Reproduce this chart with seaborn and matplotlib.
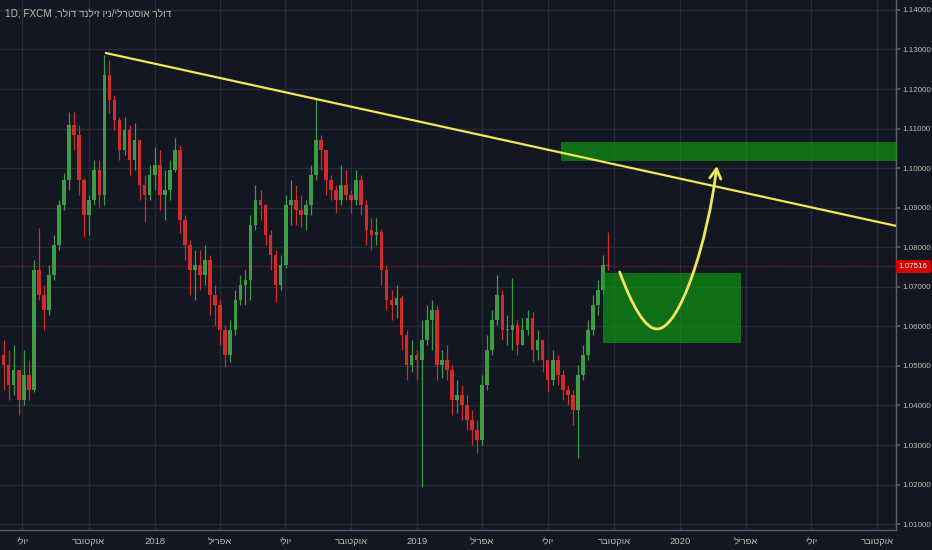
import numpy as np
import pandas as pd
import matplotlib
matplotlib.use("Agg")
import matplotlib.pyplot as plt
import matplotlib.dates as mdates
from matplotlib.path import Path
from matplotlib.patches import FancyArrowPatch
from matplotlib.transforms import blended_transform_factory
import seaborn as sns

# ---------------- data (weekly candles) ----------------
first_week = "2017-06-05"
first_open = 1.0528
closes = [
    1.0502, 1.0452, 1.0490, 1.0414, 1.0477, 1.0439, 1.0742, 1.0679, 1.0641, 1.0730,
    1.0806, 1.0907, 1.0970, 1.1109, 1.1084, 1.0970, 1.0881, 1.0919, 1.0995, 1.0932,
    1.1235, 1.1172, 1.1122, 1.1046, 1.1096, 1.1020, 1.1071, 1.0957, 1.0932, 1.0983,
    1.1008, 1.0932, 1.0945, 1.0995, 1.1046, 1.0869, 1.0806, 1.0742, 1.0755, 1.0730,
    1.0768, 1.0679, 1.0654, 1.0591, 1.0528, 1.0591, 1.0667, 1.0705, 1.0717, 1.0856,
    1.0919, 1.0907, 1.0831, 1.0780, 1.0705, 1.0755, 1.0907, 1.0919, 1.0894, 1.0881,
    1.0907, 1.0983, 1.1071, 1.1046, 1.0970, 1.0945, 1.0919, 1.0957, 1.0932, 1.0919,
    1.0970, 1.0907, 1.0844, 1.0831, 1.0839, 1.0742, 1.0667, 1.0654, 1.0672, 1.0578,
    1.0502, 1.0528, 1.0515, 1.0565, 1.0616, 1.0641, 1.0502, 1.0515, 1.0490, 1.0414,
    1.0426, 1.0401, 1.0363, 1.0338, 1.0313, 1.0452, 1.0540, 1.0616, 1.0679, 1.0591,
    1.0591, 1.0603, 1.0553, 1.0591, 1.0621, 1.0540, 1.0565, 1.0515, 1.0464, 1.0515,
    1.0477, 1.0439, 1.0426, 1.0388, 1.0477, 1.0528, 1.0591, 1.0654, 1.0692, 1.0755,
    1.07516,
]
highs = [
    1.0565, 1.0540, 1.0553, 1.0490, 1.0540, 1.0515, 1.0768, 1.0849, 1.0705, 1.0755,
    1.0831, 1.0919, 1.0988, 1.1142, 1.1142, 1.1109, 1.0975, 1.0932, 1.1020, 1.1020,
    1.1286, 1.1273, 1.1185, 1.1129, 1.1129, 1.1109, 1.1114, 1.1071, 1.0983, 1.1008,
    1.1053, 1.1046, 1.0995, 1.1020, 1.1076, 1.1058, 1.0881, 1.0818, 1.0793, 1.0793,
    1.0806, 1.0780, 1.0705, 1.0667, 1.0603, 1.0616, 1.0692, 1.0730, 1.0742, 1.0881,
    1.0957, 1.0945, 1.0910, 1.0844, 1.0793, 1.0780, 1.0932, 1.0970, 1.0957, 1.0932,
    1.0919, 1.1008, 1.1175, 1.1084, 1.1046, 1.0983, 1.0957, 1.1008, 1.0995, 1.0945,
    1.0995, 1.0983, 1.0919, 1.0874, 1.0874, 1.0845, 1.0755, 1.0692, 1.0705, 1.0679,
    1.0591, 1.0565, 1.0540, 1.0616, 1.0654, 1.0667, 1.0654, 1.0540, 1.0553, 1.0502,
    1.0464, 1.0452, 1.0426, 1.0388, 1.0363, 1.0477, 1.0578, 1.0641, 1.0730, 1.0692,
    1.0629, 1.0722, 1.0616, 1.0621, 1.0641, 1.0636, 1.0591, 1.0565, 1.0515, 1.0540,
    1.0528, 1.0490, 1.0452, 1.0439, 1.0502, 1.0553, 1.0616, 1.0679, 1.0717, 1.0780,
    1.0839,
]
lows = [
    1.0439, 1.0414, 1.0426, 1.0376, 1.0401, 1.0414, 1.0434, 1.0667, 1.0591, 1.0629,
    1.0717, 1.0793, 1.0894, 1.0945, 1.1046, 1.0932, 1.0826, 1.0831, 1.0907, 1.0902,
    1.0907, 1.1139, 1.1096, 1.1020, 1.1033, 1.0983, 1.0995, 1.0919, 1.0864, 1.0919,
    1.0945, 1.0894, 1.0869, 1.0919, 1.0990, 1.0836, 1.0768, 1.0679, 1.0667, 1.0692,
    1.0705, 1.0629, 1.0603, 1.0553, 1.0497, 1.0510, 1.0578, 1.0654, 1.0654, 1.0667,
    1.0844, 1.0869, 1.0806, 1.0742, 1.0662, 1.0692, 1.0748, 1.0856, 1.0856, 1.0851,
    1.0844, 1.0881, 1.0970, 1.0995, 1.0932, 1.0919, 1.0887, 1.0907, 1.0919, 1.0887,
    1.0907, 1.0881, 1.0806, 1.0793, 1.0806, 1.0705, 1.0641, 1.0616, 1.0621, 1.0540,
    1.0464, 1.0485, 1.0464, 1.0194, 1.0553, 1.0540, 1.0464, 1.0469, 1.0464, 1.0376,
    1.0381, 1.0363, 1.0338, 1.0300, 1.0280, 1.0300, 1.0439, 1.0528, 1.0603, 1.0565,
    1.0553, 1.0540, 1.0528, 1.0553, 1.0578, 1.0510, 1.0515, 1.0485, 1.0434, 1.0452,
    1.0452, 1.0414, 1.0401, 1.0351, 1.0267, 1.0464, 1.0515, 1.0578, 1.0629, 1.0679,
    1.0742,
]
last_price = 1.07516

price_ticks = [1.01, 1.02, 1.03, 1.04, 1.05, 1.06, 1.07, 1.08, 1.09, 1.10,
               1.11, 1.12, 1.13, 1.14]
month_ticks = ["2017-07-01", "2017-10-01", "2018-01-01", "2018-04-01",
               "2018-07-01", "2018-10-01", "2019-01-01", "2019-04-01",
               "2019-07-01", "2019-10-01", "2020-01-01", "2020-04-01",
               "2020-07-01", "2020-10-01"]
# Hebrew labels given in visual (left-to-right glyph) order
month_labels = ["ילוי", "רבוטקוא", "2018", "לירפא", "ילוי", "רבוטקוא", "2019",
                "לירפא", "ילוי", "רבוטקוא", "2020", "לירפא", "ילוי", "רבוטקוא"]
title_text = "1D, FXCM ,רלוד דנליז וינ/ילרטסוא רלוד"

# drawings
trend_dates = ["2017-10-25", "2020-10-27"]
trend_prices = [1.1291, 1.0854]
zone_top_dates = ["2019-07-19", "2020-12-31"]
zone_top_prices = [1.10180, 1.10668]
zone_low_dates = ["2019-09-16", "2020-03-25"]
zone_low_prices = [1.05579, 1.07349]
curve_dates = ["2019-10-09", "2019-10-26", "2019-11-13", "2019-11-30",
               "2020-01-01", "2020-02-09", "2020-02-21"]
curve_prices = [1.07374, 1.06540, 1.05933, 1.05933, 1.05933, 1.08183, 1.10053]

view_dates = ["2017-05-31", "2020-10-27"]
view_prices = [1.00852, 1.1425]

# ---------------- style ----------------
BG = "#131722"
GRID = "#272b36"
TXT = "#bdbcae"
UP = "#3d9b45"
DOWN = "#d12c2c"

sns.set_theme(style="dark", rc={"axes.facecolor": BG, "figure.facecolor": BG})
plt.rcParams["font.family"] = ["Liberation Sans", "DejaVu Sans"]

fig = plt.figure(figsize=(9.32, 5.5), dpi=100)
ax = fig.add_axes([0, 20 / 550, 896 / 932, 530 / 550])
ax.set_facecolor(BG)

df = pd.DataFrame({
    "date": pd.date_range(first_week, periods=len(closes), freq="7D"),
    "close": closes, "high": highs, "low": lows,
})
df["open"] = [first_open] + closes[:-1]
up = df["close"] >= df["open"]
cols = np.where(up, UP, DOWN)

# wicks and bodies
ax.vlines(df["date"], df["low"], df["high"], colors=cols, lw=0.9, zorder=3)
body_lo = np.minimum(df["open"], df["close"])
body_h = np.maximum(np.abs(df["close"] - df["open"]), 0.00025)
ax.bar(df["date"], body_h, bottom=body_lo, width=5.0, color=cols,
       edgecolor="none", zorder=4)

# last price line
ax.axhline(last_price, color="#8e1b1b", lw=0.9, ls=(0, (1, 1)), zorder=2)

# zones
zt = pd.to_datetime(zone_top_dates)
ax.fill_between(zt, zone_top_prices[0], zone_top_prices[1], color="#0c9a12",
                alpha=0.68, lw=0, zorder=5)
zl = pd.to_datetime(zone_low_dates)
ax.fill_between(zl, zone_low_prices[0], zone_low_prices[1], color="#0c9a12",
                alpha=0.68, lw=0, zorder=5)

# trend line
sns.lineplot(x=pd.to_datetime(trend_dates), y=trend_prices, ax=ax,
             color="#f2e65a", lw=1.6, zorder=6)

# projected curve with arrow
cx = mdates.date2num(pd.to_datetime(curve_dates))
verts = list(zip(cx, curve_prices))
codes = [Path.MOVETO] + [Path.CURVE4] * 6
arrow = FancyArrowPatch(path=Path(verts, codes),
                        arrowstyle="->,head_length=7,head_width=4",
                        color="#f2e65a", lw=2, shrinkA=0, shrinkB=0,
                        transform=ax.transData, zorder=7)
ax.add_patch(arrow)

# axes setup
ax.set_xlim(pd.Timestamp(view_dates[0]), pd.Timestamp(view_dates[1]))
ax.set_ylim(view_prices[0], view_prices[1])
ax.set_yticks(price_ticks)
ax.set_yticklabels([f"{v:.5f}" for v in price_ticks])
ax.yaxis.tick_right()
ax.set_xticks(pd.to_datetime(month_ticks))
ax.set_xticklabels(month_labels)
ax.grid(True, color=GRID, lw=1, zorder=0)
ax.set_axisbelow(True)
ax.tick_params(axis="y", colors=TXT, labelsize=5.8, length=3, pad=1.5,
               right=True, left=False, labelright=True, labelleft=False)
ax.tick_params(axis="y", color="#5d606b")
ax.tick_params(axis="x", colors=TXT, labelsize=6.8, length=0, pad=5)
for s in ["left", "top"]:
    ax.spines[s].set_visible(False)
for s in ["right", "bottom"]:
    ax.spines[s].set_visible(True)
    ax.spines[s].set_color("#5d606b")
    ax.spines[s].set_linewidth(1)
ax.set_xlabel("")
ax.set_ylabel("")

# last price tag
tr = blended_transform_factory(ax.transAxes, ax.transData)
ax.text(1.003, last_price, f"{last_price:.5f}", transform=tr, ha="left",
        va="center", fontsize=5.8, color="white",
        clip_on=False, zorder=10,
        bbox=dict(facecolor="#d50000", edgecolor="none", pad=2.2))

fig.text(5 / 932, 1 - 14 / 550, title_text, color=TXT, fontsize=7.2,
         ha="left", va="center")

fig.savefig("out.png", dpi=100, facecolor=BG)
